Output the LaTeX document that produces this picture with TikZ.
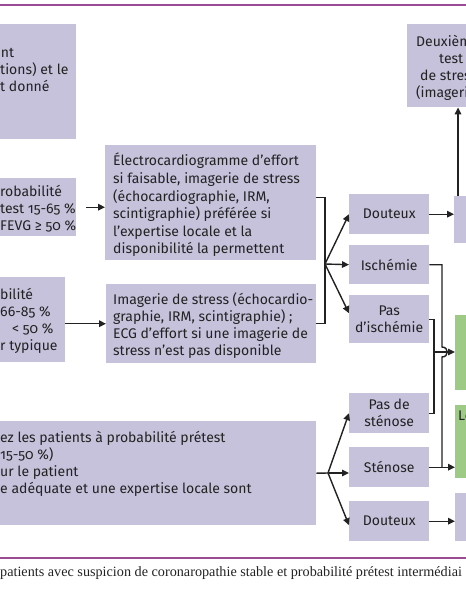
\documentclass[tikz,border=0pt]{standalone}
\usepackage{fontspec}
\setmainfont{Fira Sans}[Numbers=OldStyle]
\newfontfamily\capfont{Liberation Serif}
\usetikzlibrary{arrows.meta,positioning,calc}
\definecolor{esclav}{HTML}{C6C2DB}
\definecolor{escgreen}{HTML}{9DCB86}
\definecolor{escrule}{HTML}{9B4B93}
\definecolor{escink}{HTML}{222222}
\newcommand{\boxfont}{\fontsize{14}{17}\selectfont}
\tikzset{
  box/.style={rectangle, fill=esclav, anchor=north west, inner sep=0pt,
              align=center, font=\boxfont, text=escink},
  okbox/.style={box, fill=escgreen},
  txt/.style={anchor=north west, inner sep=0pt, align=left, font=\boxfont, text=escink},
  ar/.style={-{Triangle[length=7pt,width=6.5pt]}, line width=1.4pt, draw=escink},
  wire/.style={line width=1.4pt, draw=escink},
  rule/.style={draw=escrule, line width=1.6pt},
}

\begin{document}
\begin{tikzpicture}[x=1pt,y=-1pt]
\useasboundingbox (0,0) rectangle (466,600);
\clip (0,0) rectangle (466,600);

% ---------- rules + caption ----------
\draw[rule] (0,5) -- (466,5);
\draw[rule] (0,558) -- (466,558);
\node[anchor=west,inner sep=0pt,font=\capfont\fontsize{14.2}{16}\selectfont,text=escink] (cap) at (0,573)
  {patients avec suspicion de coronaropathie stable et probabilité prétest intermédiai};

% ---------- left column (cut) ----------
\node[box,minimum width=86pt,minimum height=115pt] (tl) at (-10,24) {};
\node[txt] (tlt) at (0,48) {\hspace*{-7pt}ent\\tions) et le\\t donné};
\node[box,minimum width=86pt,minimum height=58pt] (lm) at (-10,178) {};
\node[txt] (lmt) at (0,185) {robabilité\\test 15-65 \%\\FEVG ≥ 50 \%};
\node[box,minimum width=75pt,minimum height=85pt] (ll) at (-10,277) {};
\node[txt] (llt) at (0,288) {bilité\\66-85 \%\\\hspace*{12pt}< 50 \%\\r typique};
\node[box,minimum width=326pt,minimum height=104pt] (bl) at (-10,421) {};
\node[txt] (blt) at (0,431)
  {ez les patients à probabilité prétest\\15-50 \%)\\ur le patient\\e adéquate et une expertise locale sont};

% ---------- tests ----------
\node[box,minimum width=211pt,minimum height=115pt] (ecg) at (105,145) {};
\node[txt,font=\fontsize{14}{17.6}\selectfont] (ecgt) at (113,153)
  {Électrocardiogramme d’effort\\si faisable, imagerie de stress\\(échocardiographie, IRM,\\scintigraphie) préférée si\\l’expertise locale et la\\disponibilité la permettent};
\node[box,minimum width=210pt,minimum height=79pt] (img) at (106,284) {};
\node[txt] (imgt) at (113,292)
  {Imagerie de stress (échocardio-\\graphie, IRM, scintigraphie) ;\\ECG d’effort si une imagerie de\\stress n’est pas disponible};

\draw[ar,shorten <=10pt] (lm.east) -- (lm.east -| ecg.west);
\draw[ar] (img.west -| ll.east) -- (img.west);

% ---------- results ----------
\node[box,minimum width=80pt,minimum height=40pt] (dt1) at (349,194) {Douteux};
\node[box,minimum width=80pt,minimum height=39pt] (isc) at (349,245) {Ischémie};
\node[box,minimum width=80pt,minimum height=48pt] (pis) at (349,295) {Pas\\d’ischémie};
\node[box,minimum width=80pt,minimum height=40pt] (pds) at (349,393) {Pas de\\sténose};
\node[box,minimum width=80pt,minimum height=40pt] (sten) at (349,447) {Sténose};
\node[box,minimum width=80pt,minimum height=40pt] (dt2) at (349,501) {Douteux};

\coordinate (j1) at (325,264);
\draw[wire] ([yshift=5pt]ecg.east) -| (j1) |- (img.east);
\draw[ar] (j1) -- (dt1.west);
\draw[ar] (j1) -- (isc.west);
\draw[ar] (j1) -- ([yshift=6pt]pis.west);

\coordinate (j2) at (328,473);
\draw[wire] (bl.east) -- (j2);
\draw[ar] (j2) -- (pds.west);
\draw[ar] (j2) -- (j2 -| sten.west);
\draw[ar] (j2) -- ([yshift=-4pt]dt2.west);

% ---------- right edge (cut) ----------
\node[box,minimum width=83pt,minimum height=83pt] (tr) at (407,24) {};
\node[txt] (trt) at (416,35) {Deuxièm\\\hspace*{23pt}test\\\hspace*{4pt}de stres\\(imageri};
\node[box,minimum width=36pt,minimum height=47pt] (rd) at (454,196) {};
\node[okbox,minimum width=35pt,minimum height=75pt] (g1) at (455,315) {};
\node[okbox,minimum width=35pt,minimum height=73pt] (g2) at (455,405) {};
\node[txt] (g2t) at (458,411) {Le};
\node[box,minimum width=35pt,minimum height=48pt] (rb) at (455,493) {};

\draw[ar] (dt1.east) -- (dt1.east -| rd.west);
\draw[ar] ([xshift=4pt]rd.north west) -- ([xshift=4pt]rd.north west |- tr.south);

\coordinate (j3) at (434,352);
\draw[wire] (pis.east) -| (j3);
\draw[wire] (pds.east) -| (j3);
\draw[ar] (j3) -- (j3 -| g1.west);

\coordinate (j4) at (442,467);
\draw[wire] (isc.east) -| (442,347) .. controls (449,347) and (449,357) .. (442,357) -- (j4);
\draw[ar] (sten.east) -- (sten.east -| g2.west);
\draw[ar] (dt2.east) -- (dt2.east -| rb.west);
\end{tikzpicture}
\end{document}
